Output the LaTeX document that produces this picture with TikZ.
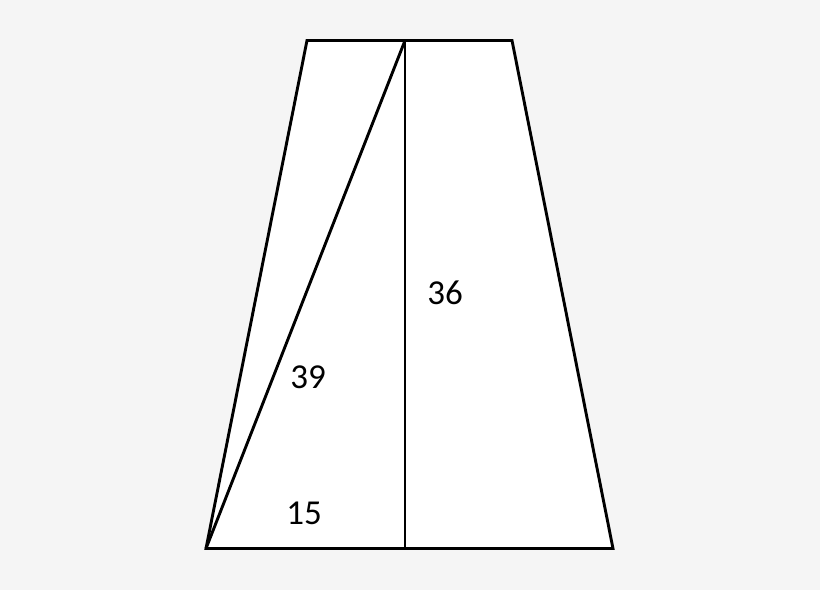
\documentclass[tikz,border=0pt]{standalone}
\usepackage{fontspec}
\setmainfont{Carlito}
\definecolor{bg}{HTML}{F5F5F5}
\begin{document}
\begin{tikzpicture}[x=1pt,y=-1pt,
  edge/.style={draw=black,line width=2.9pt,line join=miter},
  lbl/.style={font=\fontsize{35}{42}\selectfont,inner sep=0pt}]
\fill[bg] (0,0) rectangle (820,590);
\useasboundingbox (0,0) rectangle (820,590);
\coordinate (bl) at (206,548.5);
\coordinate (br) at (613,548.5);
\coordinate (tr) at (512,40.5);
\coordinate (tl) at (307,40.5);
\coordinate (tm) at (405,40.5);
\coordinate (bm) at (405,548.5);
\fill[white] (bl) -- (br) -- (tr) -- (tl) -- cycle;
\draw[edge] (bl) -- (br) -- (tr) -- (tl) -- cycle;
\draw[edge] (tm) -- (bm);
\draw[edge] (bl) -- (tm);
\node[lbl] (a) at (445,293) {36};
\node[lbl] (b) at (308,377) {39};
\node[lbl] (c) at (304,513) {15};
\end{tikzpicture}
\end{document}
